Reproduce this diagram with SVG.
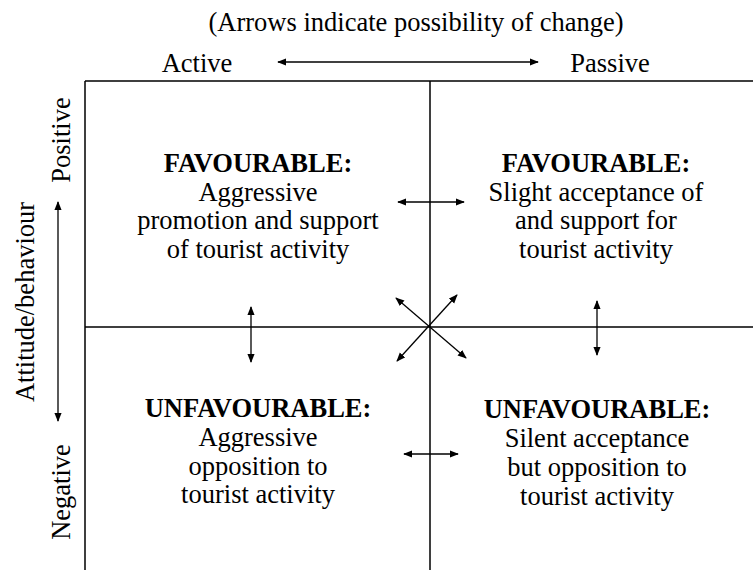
<svg xmlns="http://www.w3.org/2000/svg" width="753" height="570" viewBox="0 0 753 570">
  <style>
    text { font-family: 'Liberation Serif', 'Times New Roman', 'DejaVu Serif', serif; font-size: 26.5px; fill: #000; }
    .c { text-anchor: middle; }
    .b { font-weight: bold; }
    .grid { stroke: #000; stroke-width: 1.5; fill: none; }
    .arr { stroke: #000; stroke-width: 1.3; fill: none; marker-start: url(#head); marker-end: url(#head); }
  </style>
  <defs>
    <marker id="head" viewBox="0 0 10 10" refX="9" refY="5" markerWidth="9" markerHeight="9" markerUnits="userSpaceOnUse" orient="auto-start-reverse">
      <path d="M0,1 L10,5 L0,9 z" fill="#000"/>
    </marker>
  </defs>

  <!-- header and axis labels -->
  <g id="header">
    <text class="c" x="416" y="31">(Arrows indicate possibility of change)</text>
    <text class="c" x="197" y="72">Active</text>
    <text class="c" x="610" y="72">Passive</text>
  </g>
  <g id="axis-labels">
    <text class="c" transform="translate(70,140) rotate(-90)">Positive</text>
    <text class="c" transform="translate(70,492) rotate(-90)">Negative</text>
    <text class="c" transform="translate(34,302) rotate(-90)">Attitude/behaviour</text>
  </g>

  <!-- quadrant grid -->
  <g id="grid">
    <path class="grid" d="M85,81 H753 M85,81 V570 M430,81 V570 M85,327 H753"/>
  </g>

  <!-- quadrants -->
  <g id="q-favourable-active">
    <text class="c b" x="258" y="172">FAVOURABLE:</text>
    <text class="c" x="258" y="201">Aggressive</text>
    <text class="c" x="258" y="229">promotion and support</text>
    <text class="c" x="258" y="258">of tourist activity</text>
  </g>
  <g id="q-favourable-passive">
    <text class="c b" x="596" y="172">FAVOURABLE:</text>
    <text class="c" x="596" y="201">Slight acceptance of</text>
    <text class="c" x="596" y="229">and support for</text>
    <text class="c" x="596" y="258">tourist activity</text>
  </g>
  <g id="q-unfavourable-active">
    <text class="c b" x="258" y="417">UNFAVOURABLE:</text>
    <text class="c" x="258" y="446">Aggressive</text>
    <text class="c" x="258" y="475">opposition to</text>
    <text class="c" x="258" y="503">tourist activity</text>
  </g>
  <g id="q-unfavourable-passive">
    <text class="c b" x="597" y="418">UNFAVOURABLE:</text>
    <text class="c" x="597" y="447">Silent acceptance</text>
    <text class="c" x="597" y="476">but opposition to</text>
    <text class="c" x="597" y="505">tourist activity</text>
  </g>

  <!-- change arrows -->
  <g id="connectors">
    <line class="arr" x1="278" y1="62" x2="538" y2="62"/>
    <line class="arr" x1="58" y1="202" x2="58" y2="421"/>
    <line class="arr" x1="398" y1="202" x2="464" y2="202"/>
    <line class="arr" x1="404" y1="454" x2="458" y2="454"/>
    <line class="arr" x1="251" y1="307" x2="251" y2="362"/>
    <line class="arr" x1="597" y1="301" x2="597" y2="355"/>
    <line class="arr" x1="396" y1="298" x2="466" y2="358"/>
    <line class="arr" x1="457" y1="295" x2="397" y2="361"/>
  </g>
</svg>
